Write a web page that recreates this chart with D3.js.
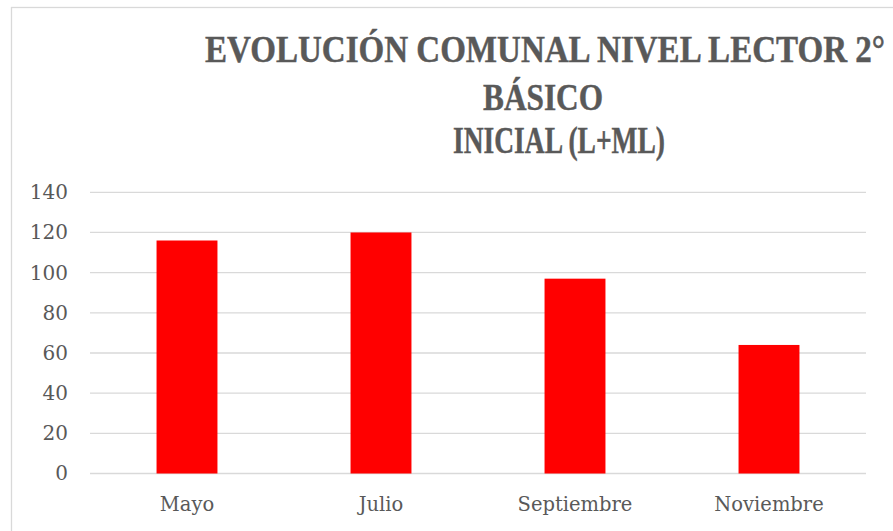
<!DOCTYPE html>
<html>
<head>
<meta charset="utf-8">
<script src="https://cdn.jsdelivr.net/npm/d3@7"></script>
<style>
  body { margin: 0; background: #fff; }
  svg { display: block; }
</style>
</head>
<body>
<div id="chart"></div>
<script>
// data
const months = ["Mayo", "Julio", "Septiembre", "Noviembre"];
const values = [116, 120, 97, 64];
const yTicks = [0, 20, 40, 60, 80, 100, 120, 140];
const titleLines = ["EVOLUCIÓN COMUNAL NIVEL LECTOR 2°", "BÁSICO", "INICIAL (L+ML)"];

const W = 893, H = 531;
const plot = {left: 90, right: 866, top: 192.3, bottom: 473.5};

const svg = d3.select("#chart")
  .append("svg")
    .attr("width", W)
    .attr("height", H);

// chart area border (runs off the right / bottom edge)
svg.append("rect")
  .attr("x", 11.5)
  .attr("y", 7.5)
  .attr("width", 1100)
  .attr("height", 600)
  .attr("fill", "#fff")
  .attr("stroke", "#d9d9d9")
  .attr("stroke-width", 1.3);

// title, each line squeezed to the width it has in the picture
const titleX = [545, 543, 559];
const titleY = [62, 110, 153];
const titleW = [680, 120, 212];
svg.append("g")
  .selectAll("text")
  .data(titleLines)
  .enter()
  .append("text")
    .attr("transform", (d, i) => `translate(${titleX[i]}, ${titleY[i]}) scale(1, 1.12)`)
    .attr("text-anchor", "middle")
    .attr("textLength", (d, i) => titleW[i])
    .attr("lengthAdjust", "spacingAndGlyphs")
    .style("font-family", "'Liberation Serif', serif")
    .style("font-weight", "bold")
    .style("font-size", "33.5px")
    .style("fill", "#595959")
    .style("stroke", "#595959")
    .style("stroke-width", 0.4)
    .text(d => d);

const x = d3.scaleBand()
  .domain(months)
  .range([plot.left, plot.right])
  .paddingInner(0.686)
  .paddingOuter(0.343);

const y = d3.scaleLinear()
  .domain([0, 140])
  .range([plot.bottom, plot.top]);

// gridlines
svg.append("g")
  .selectAll("line")
  .data(yTicks)
  .enter()
  .append("line")
    .attr("x1", plot.left)
    .attr("x2", plot.right)
    .attr("y1", d => y(d))
    .attr("y2", d => y(d))
    .attr("stroke", "#d9d9d9")
    .attr("stroke-width", 1.3);

// y axis labels
const yAxis = svg.append("g")
  .attr("transform", "translate(68, 0)")
  .call(d3.axisLeft(y).tickValues(yTicks).tickSize(0).tickPadding(0));
yAxis.select(".domain").remove();
yAxis.selectAll("text")
  .style("font-family", "'DejaVu Serif', serif")
  .style("font-size", "20px")
  .style("fill", "#595959");

// x axis labels
const xAxis = svg.append("g")
  .attr("transform", `translate(0, ${plot.bottom})`)
  .call(d3.axisBottom(x).tickSize(0).tickPadding(24));
xAxis.select(".domain").remove();
xAxis.selectAll("text")
  .style("font-family", "'DejaVu Serif', serif")
  .style("font-size", "19.5px")
  .style("fill", "#595959");

// bars
svg.append("g")
  .selectAll("rect")
  .data(values)
  .enter()
  .append("rect")
    .attr("x", (d, i) => x(months[i]))
    .attr("y", d => y(d))
    .attr("width", x.bandwidth())
    .attr("height", d => y(0) - y(d))
    .attr("fill", "#ff0000");
</script>
</body>
</html>
